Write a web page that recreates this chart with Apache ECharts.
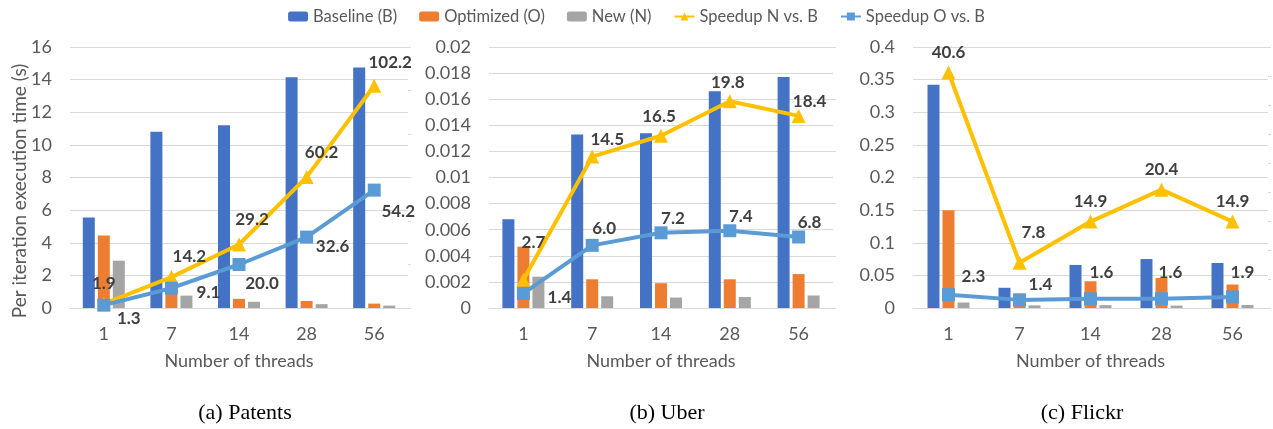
<!DOCTYPE html>
<html>
<head>
<meta charset="utf-8">
<script src="https://cdn.jsdelivr.net/npm/echarts@6/dist/echarts.min.js"></script>
<style>
  html, body { margin: 0; padding: 0; background: #fff; }
  #chart { width: 1273px; height: 429px; }
</style>
</head>
<body>
<div id="chart"></div>
<script>
// Thread counts shared by all three datasets
const threads = ['1', '7', '14', '28', '56'];

// Patents: per-iteration time (s) and speedups
const patentsBaseline  = [5.55, 10.8, 11.2, 14.15, 14.75];
const patentsOptimized = [4.45, 1.19, 0.56, 0.43, 0.27];
const patentsNew       = [2.9, 0.76, 0.38, 0.235, 0.145];
const patentsSpeedupN  = [1.9, 14.2, 29.2, 60.2, 102.2];
const patentsSpeedupO  = [1.3, 9.1, 20.0, 32.6, 54.2];

// Uber
const uberBaseline  = [0.0068, 0.0133, 0.0134, 0.0166, 0.0177];
const uberOptimized = [0.0047, 0.0022, 0.0019, 0.0022, 0.0026];
const uberNew       = [0.0024, 0.0009, 0.0008, 0.00084, 0.00096];
const uberSpeedupN  = [2.7, 14.5, 16.5, 19.8, 18.4];
const uberSpeedupO  = [1.4, 6.0, 7.2, 7.4, 6.8];

// Flickr
const flickrBaseline  = [0.342, 0.031, 0.066, 0.075, 0.069];
const flickrOptimized = [0.15, 0.022, 0.041, 0.046, 0.036];
const flickrNew       = [0.0084, 0.004, 0.0044, 0.0037, 0.0046];
const flickrSpeedupN  = [40.6, 7.8, 14.9, 20.4, 14.9];
const flickrSpeedupO  = [2.3, 1.4, 1.6, 1.6, 1.9];

// Axis ranges
const timeAxisMax = [16, 0.02, 0.4];
const timeAxisStep = [2, 0.002, 0.05];
const speedAxisMax = [120, 25, 45];
const speedAxisStep = [20, 5, 5];

const captions = ['(a) Patents', '(b) Uber', '(c) Flickr'];
const timeAxisTitle = 'Per iteration execution time (s)';

// Layout of the three panels
const panels = [
  { left: 70, width: 338, caption: 240 },
  { left: 489, width: 344, caption: 662 },
  { left: 913, width: 355, caption: 1077 }
];

// Value-label nudges (px) for the speedup points, per panel
const labelShiftN = [
  [[0, -20], [18, -21], [13, -25], [15, -25], [16, -23]],
  [[10, -37], [15, -17], [-2, -19], [-2, -19], [11, -14]],
  [[0, -20], [14, -30], [0, -20], [0, -20], [0, -20]]
];
const labelShiftO = [
  [[25, 13], [37, 4], [23, 19], [26, 9], [24, 21]],
  [[36, 4], [12, -17], [12, -14], [11, -14], [11, -14]],
  [[25, -18], [21, -15], [11, -26], [9, -26], [10, -24]]
];

const sets = [
  [patentsBaseline, patentsOptimized, patentsNew, patentsSpeedupN, patentsSpeedupO],
  [uberBaseline, uberOptimized, uberNew, uberSpeedupN, uberSpeedupO],
  [flickrBaseline, flickrOptimized, flickrNew, flickrSpeedupN, flickrSpeedupO]
];

const names = ['Baseline (B)', 'Optimized (O)', 'New (N)', 'Speedup N vs. B', 'Speedup O vs. B'];
const colors = ['#4472C4', '#ED7D31', '#A5A5A5', '#FFC000', '#5B9BD5'];

const FONT = 'Lato, "Open Sans", sans-serif';
const textGray = '#595959';
const gridGray = '#D9D9D9';

const grid = [], xAxis = [], yAxis = [], series = [], title = [];

panels.forEach((p, i) => {
  grid.push({ left: p.left, width: p.width, top: 47, height: 261 });
  xAxis.push({
    type: 'category', gridIndex: i, data: threads,
    name: 'Number of threads', nameLocation: 'middle', nameGap: 44,
    nameTextStyle: { fontFamily: FONT, fontSize: 18, color: textGray },
    axisLine: { lineStyle: { color: gridGray, width: 1 } },
    axisTick: { show: false },
    axisLabel: { fontFamily: FONT, fontSize: 18, color: textGray, margin: 17 }
  });
  yAxis.push({
    type: 'value', gridIndex: i, min: 0, max: timeAxisMax[i], interval: timeAxisStep[i],
    axisLine: { show: false }, axisTick: { show: false },
    splitLine: { lineStyle: { color: gridGray, width: 1 } },
    axisLabel: { fontFamily: FONT, fontSize: 18, color: textGray, margin: 18 }
  });
  yAxis.push({
    type: 'value', gridIndex: i, position: 'right', min: 0, max: speedAxisMax[i], interval: speedAxisStep[i],
    axisLine: { show: false },
    axisTick: { show: true, length: 3, lineStyle: { color: gridGray } },
    axisLabel: { show: false }, splitLine: { show: false }
  });

  const d = sets[i];
  for (let k = 0; k < 3; k++) {
    series.push({
      name: names[k], type: 'bar', xAxisIndex: i, yAxisIndex: 2 * i,
      data: d[k], barWidth: 12, barGap: '25%',
      itemStyle: { color: colors[k] }, z: 2
    });
  }
  const shifts = [labelShiftN[i], labelShiftO[i]];
  [3, 4].forEach((k, j) => {
    series.push({
      name: names[k], type: 'line', xAxisIndex: i, yAxisIndex: 2 * i + 1,
      data: d[k].map((v, n) => ({
        value: v,
        label: { offset: shifts[j][n] }
      })),
      symbol: k === 3 ? 'triangle' : 'rect',
      symbolSize: k === 3 ? 14 : 13,
      lineStyle: { color: colors[k], width: 4 },
      itemStyle: { color: colors[k] },
      z: 5,
      label: {
        show: true, position: 'inside',
        formatter: (prm) => prm.value.toFixed(1),
        fontFamily: FONT, fontSize: 17, fontWeight: 'bold', color: '#404040'
      }
    });
  });

  title.push({
    text: captions[i], left: p.caption, top: 397, textAlign: 'center',
    textStyle: { fontFamily: '"Liberation Serif", serif', fontSize: 22, fontWeight: 'normal', color: '#000' }
  });
});

const chart = echarts.init(document.getElementById('chart'), null, { renderer: 'canvas' });
chart.setOption({
  animation: false,
  backgroundColor: '#fff',
  title,
  legend: {
    data: names, top: 3, left: 'center',
    itemWidth: 20, itemHeight: 10, itemGap: 22,
    textStyle: { fontFamily: FONT, fontSize: 16.5, color: textGray }
  },
  graphic: [{
    type: 'text', x: 20, y: 191, rotation: Math.PI / 2,
    style: {
      text: timeAxisTitle, fontFamily: FONT, fontSize: 19, fill: textGray,
      align: 'center', verticalAlign: 'middle'
    }
  }],
  grid, xAxis, yAxis, series
});
</script>
</body>
</html>
